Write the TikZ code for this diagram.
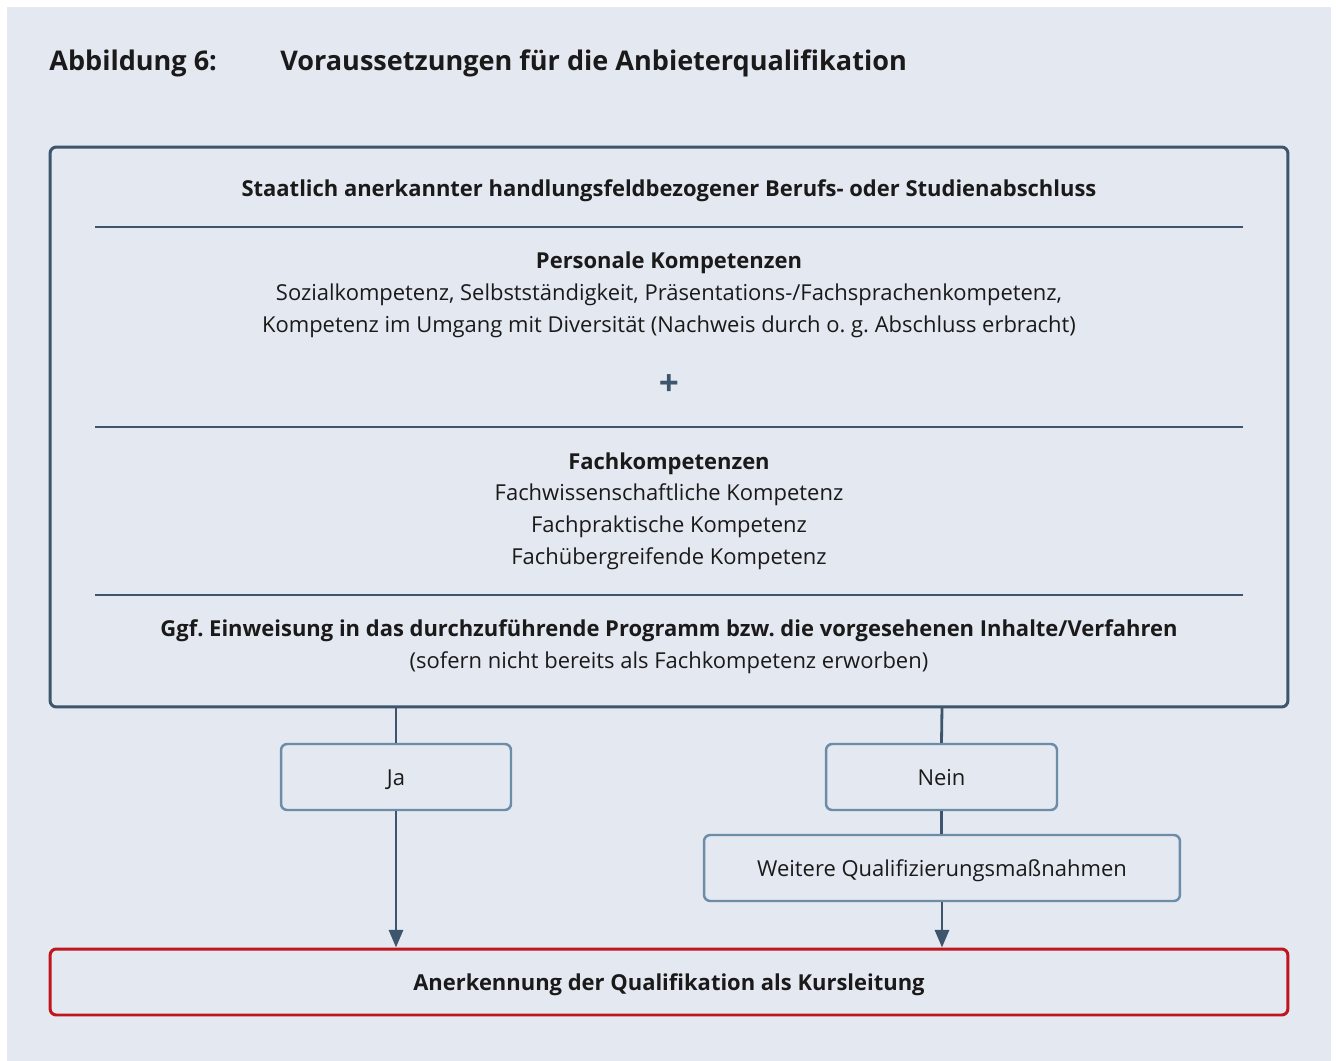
\documentclass[tikz,border=0pt]{standalone}
\usepackage{fontspec}
\setmainfont{Open Sans}
\usetikzlibrary{arrows.meta}
\definecolor{bgc}{HTML}{E4E8F1}
\definecolor{slate}{HTML}{3E566D}
\definecolor{steel}{HTML}{6C8CA8}
\definecolor{redc}{HTML}{C0151D}
\definecolor{txt}{HTML}{1A1A1A}
\frenchspacing
\begin{document}
\begin{tikzpicture}[x=0.02cm,y=-0.02cm,
  every node/.style={text=txt,font=\fontsize{12.5}{18.1}\selectfont,inner sep=0pt},
  bigbox/.style={draw=slate,line width=1.7pt,rounded corners=3.5pt,minimum width=24.76cm,minimum height=11.2cm},
  smallbox/.style={draw=steel,line width=1.4pt,rounded corners=3.5pt,minimum height=1.32cm,text height=1.2em,text depth=0.22em},
  redbox/.style={draw=redc,line width=1.7pt,rounded corners=3.5pt,minimum width=24.76cm,minimum height=1.32cm,text height=1.2em,text depth=0.22em},
  sep/.style={draw=slate,line width=0.85pt},
  conn/.style={draw=slate,line width=1.6pt},
  arr/.style={conn,-{Triangle[length=10pt,width=8pt]}},
  blk/.style={align=center}]
\useasboundingbox (0,0) rectangle (1336,1061);
\fill[white] (0,0) rectangle (1336,1061);
\fill[bgc] (7,7) rectangle (1331,1061);
\node[anchor=west,font=\fontsize{15.4}{18}\selectfont\bfseries] (t1) at (49,63) {Abbildung 6:};
\node[anchor=west,font=\fontsize{15.4}{18}\selectfont\bfseries] (t2) at (280,63) {Voraussetzungen für die Anbieterqualifikation};
\node[bigbox] (main) at (669,427) {};
\node[font=\fontsize{12.5}{18.1}\selectfont\bfseries] (s1) at (669,191) {Staatlich anerkannter handlungsfeldbezogener Berufs- oder Studienabschluss};
\draw[sep] (95,227) -- (1243,227);
\node[blk] (s2) at (669,295) {\textbf{Personale Kompetenzen}\\Sozialkompetenz, Selbstständigkeit, Präsentations-/Fachsprachenkompetenz,\\Kompetenz im Umgang mit Diversität (Nachweis durch o. g. Abschluss erbracht)};
\node[text=slate,font=\fontsize{20}{22}\selectfont\bfseries] (plus) at (669,385) {+};
\draw[sep] (95,427) -- (1243,427);
\node[blk] (s3) at (669,511) {\textbf{Fachkompetenzen}\\Fachwissenschaftliche Kompetenz\\Fachpraktische Kompetenz\\Fachübergreifende Kompetenz};
\draw[sep] (95,595) -- (1243,595);
\node[blk] (s4) at (669,647) {\textbf{Ggf. Einweisung in das durchzuführende Programm bzw. die vorgesehenen Inhalte/Verfahren}\\(sofern nicht bereits als Fachkompetenz erworben)};
\node[smallbox,minimum width=4.6cm] (ja) at (396,777) {Ja};
\node[smallbox,minimum width=4.62cm] (nein) at (941.5,777) {Nein};
\node[smallbox,minimum width=9.52cm] (weit) at (942,868) {Weitere Qualifizierungsmaßnahmen};
\node[redbox,font=\fontsize{12.5}{18.1}\selectfont\bfseries] (res) at (669,982) {Anerkennung der Qualifikation als Kursleitung};
\coordinate (jtop) at (396,707);
\coordinate (ntop) at (942,707);
\draw[conn] (jtop) -- (ja.north);
\draw[arr] (ja.south) -- (ja.south |- res.north);
\draw[conn] (ntop) -- (nein.north);
\draw[conn] (nein.south) -- (nein.south |- weit.north);
\draw[arr] (weit.south) -- (weit.south |- res.north);
\end{tikzpicture}
\end{document}
